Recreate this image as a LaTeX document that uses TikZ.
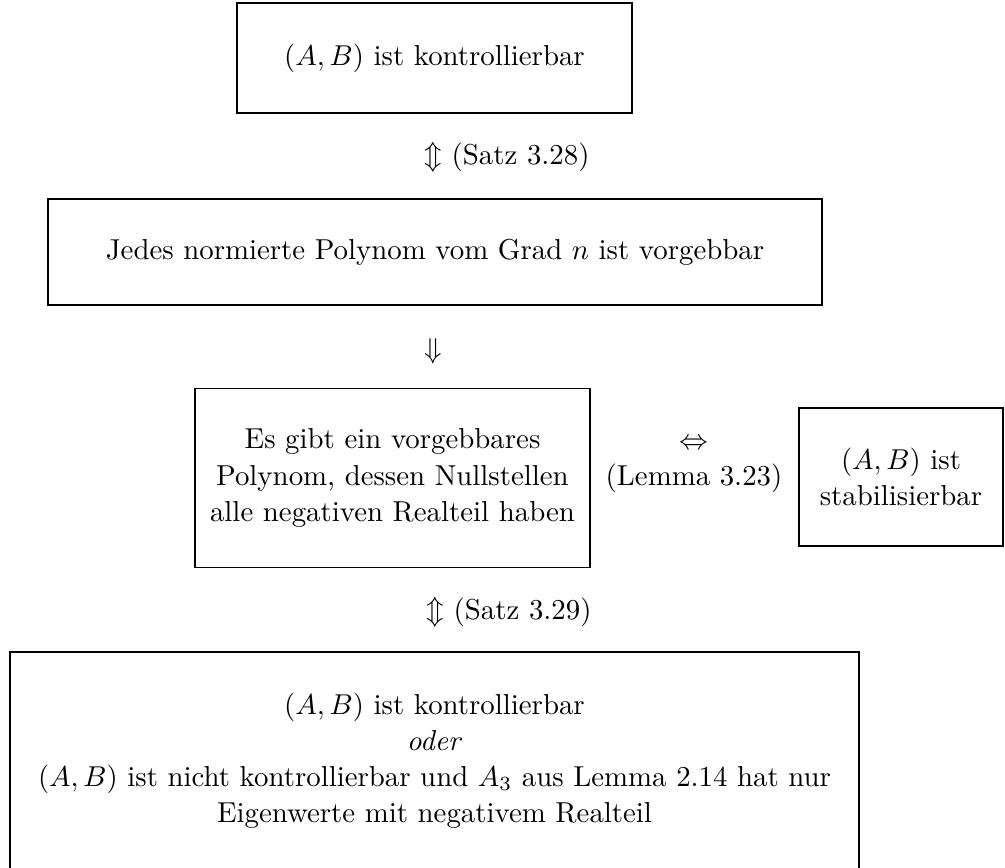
\documentclass[tikz,border=0pt]{standalone}
\begin{document}
\begin{tikzpicture}[x=0.3485pt,y=-0.3485pt,
  box/.style={draw=black,line width=0.4pt,inner sep=0pt,align=center,font=\fontsize{10.05pt}{12.6pt}\selectfont},
  lbl/.style={inner sep=0pt,align=center,font=\fontsize{10.05pt}{12.6pt}\selectfont}]
\useasboundingbox (0,0) rectangle (1005,867);
\node[box,minimum width=137.7pt,minimum height=38.3pt] (b1) at (434.5,58) {$(A,B)$ ist kontrollierbar};
\node[lbl,anchor=west] (l1) at (424,157) {$\Updownarrow$ (Satz 3.28)};
\node[box,minimum width=269.7pt,minimum height=36.9pt] (b2) at (435,252) {Jedes normierte Polynom vom Grad $n$ ist vorgebbar};
\node[lbl] (l2) at (433,351) {$\Downarrow$};
\node[box,minimum width=137.7pt,minimum height=62.4pt] (b3) at (392.5,478) {Es gibt ein vorgebbares\\Polynom, dessen Nullstellen\\alle negativen Realteil haben};
\node[lbl] (l3) at (694,466) {$\Leftrightarrow$\\(Lemma 3.23)};
\node[box,minimum width=71.1pt,minimum height=48.1pt] (b4) at (901,477) {$(A,B)$ ist\\stabilisierbar};
\node[lbl,anchor=west] (l4) at (426,612) {$\Updownarrow$ (Satz 3.29)};
\node[box,minimum width=295.9pt,minimum height=75.6pt] (b5) at (434.5,760.5) {$(A,B)$ ist kontrollierbar\\\textit{oder}\\$(A,B)$ ist nicht kontrollierbar und $A_3$ aus Lemma 2.14 hat nur\\Eigenwerte mit negativem Realteil};
\end{tikzpicture}
\end{document}
